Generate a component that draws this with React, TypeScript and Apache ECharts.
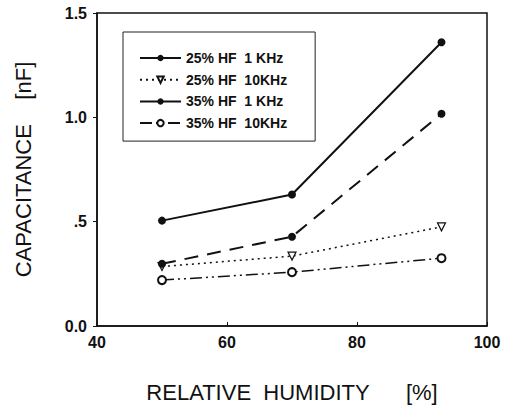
import React, { useEffect, useRef } from "react";
import * as echarts from "echarts";

const humidity = [50, 70, 93];
const hf25k1 = [0.505, 0.63, 1.36];
const hf25k10 = [0.285, 0.335, 0.475];
const hf35k1 = [0.298, 0.428, 1.017];
const hf35k10 = [0.22, 0.258, 0.325];
const seriesNames = ["25% HF  1 KHz", "25% HF  10KHz", "35% HF  1 KHz", "35% HF  10KHz"];
const yTickLabels: Record<string, string> = { "0": "0.0", "0.5": ".5", "1": "1.0", "1.5": "1.5" };

const FONT = "Liberation Sans, Arial, sans-serif";

export default function App() {
  const ref = useRef<HTMLDivElement>(null);
  useEffect(() => {
    if (!ref.current) return;
    const chart = echarts.init(ref.current, undefined, { renderer: "svg" });
    const pair = (ys: number[]) => humidity.map((x, i) => [x, ys[i]]);
    chart.setOption({
      animation: false,
      backgroundColor: "#fff",
      grid: {
        left: 97,
        right: 28,
        top: 13,
        bottom: 81,
        show: true,
        borderColor: "#111",
        borderWidth: 1.5,
        backgroundColor: "transparent",
      },
      legend: {
        orient: "vertical",
        left: 123,
        top: 32,
        padding: [18, 28, 10, 16],
        itemGap: 5.7,
        itemWidth: 41,
        itemHeight: 8,
        borderColor: "#222",
        borderWidth: 1,
        textStyle: { fontFamily: FONT, fontSize: 14, fontWeight: "bold", color: "#111", lineHeight: 16 },
        data: [
          { name: seriesNames[0] },
          { name: seriesNames[1] },
          { name: seriesNames[2], lineStyle: { type: "solid" } },
          { name: seriesNames[3] },
        ],
      },
      xAxis: {
        type: "value",
        min: 40,
        max: 100,
        interval: 20,
        name: "RELATIVE  HUMIDITY      [%]",
        nameLocation: "middle",
        nameGap: 55,
        nameTextStyle: { fontFamily: FONT, fontSize: 22, color: "#111" },
        axisLine: { lineStyle: { color: "#111", width: 1.5 } },
        axisTick: { inside: true, length: 4, lineStyle: { color: "#111" } },
        axisLabel: { fontFamily: FONT, fontSize: 16, fontWeight: "bold", color: "#111", margin: 8 },
        splitLine: { show: false },
      },
      yAxis: {
        type: "value",
        min: 0,
        max: 1.5,
        interval: 0.5,
        name: "CAPACITANCE    [nF]",
        nameLocation: "middle",
        nameGap: 63,
        nameTextStyle: { fontFamily: FONT, fontSize: 22, color: "#111" },
        axisLine: { lineStyle: { color: "#111", width: 1.5 } },
        axisTick: { inside: false, length: 4, lineStyle: { color: "#111" } },
        axisLabel: {
          fontFamily: FONT,
          fontSize: 16,
          fontWeight: "bold",
          color: "#111",
          margin: 10,
          formatter: (v: number) => yTickLabels[String(v)] ?? String(v),
        },
        splitLine: { show: false },
      },
      series: [
        {
          name: seriesNames[0],
          type: "line",
          data: pair(hf25k1),
          symbol: "circle",
          symbolSize: 8,
          itemStyle: { color: "#111" },
          lineStyle: { color: "#111", width: 2, type: "solid" },
        },
        {
          name: seriesNames[1],
          type: "line",
          data: pair(hf25k10),
          symbol: "triangle",
          symbolRotate: 180,
          symbolSize: 8,
          itemStyle: { color: "#fff", borderColor: "#111", borderWidth: 1.2 },
          lineStyle: { color: "#111", width: 1.5, type: [2, 4] },
        },
        {
          name: seriesNames[2],
          type: "line",
          data: pair(hf35k1),
          symbol: "circle",
          symbolSize: 8,
          itemStyle: { color: "#111" },
          lineStyle: { color: "#111", width: 2, type: [14, 9] },
        },
        {
          name: seriesNames[3],
          type: "line",
          data: pair(hf35k10),
          symbol: "emptyCircle",
          symbolSize: 8,
          itemStyle: { color: "#111", borderWidth: 1.2 },
          lineStyle: { color: "#111", width: 1.5, type: [12, 4, 2, 4, 2, 4] },
        },
      ],
    });
    return () => chart.dispose();
  }, []);
  return <div ref={ref} style={{ width: 515, height: 408, position: "absolute", left: 0, top: 0 }} />;
}
